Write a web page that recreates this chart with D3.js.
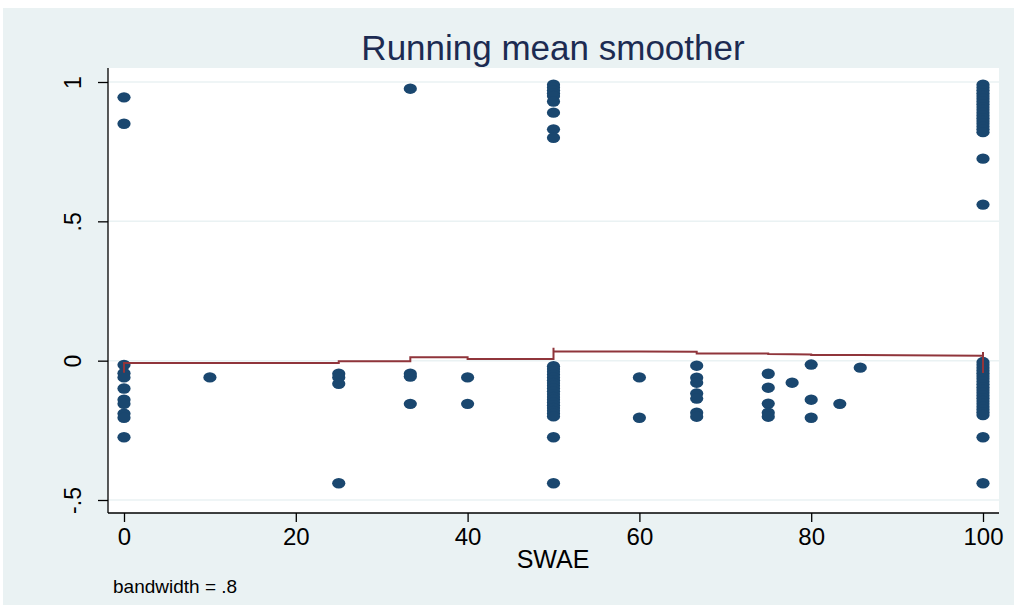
<!DOCTYPE html>
<html>
<head>
<meta charset="utf-8">
<script src="https://cdn.jsdelivr.net/npm/d3@7"></script>
<style>
  html, body { margin: 0; padding: 0; background: #ffffff; }
  svg { display: block; font-family: "Liberation Sans", Arial, sans-serif; }
</style>
</head>
<body>
<svg id="chart" width="1015" height="612"></svg>
<script>
// SWAE levels and the outcome values observed at each level
const swaeLevels = [0, 10, 25, 33.33, 40, 50, 60, 66.67, 75, 77.78, 80, 83.33, 85.71, 100];
const outcomeAt0 = [0.945, 0.85, -0.015, -0.045, -0.06, -0.1, -0.14, -0.155, -0.19, -0.205, -0.275];
const outcomeAt10 = [-0.06];
const outcomeAt25 = [-0.047, -0.06, -0.083, -0.44];
const outcomeAt33 = [0.976, -0.047, -0.057, -0.155];
const outcomeAt40 = [-0.06, -0.155];
const outcomeAt50 = [0.99, 0.98, 0.97, 0.96, 0.95, 0.93, 0.89, 0.83, 0.80,
  -0.02, -0.03, -0.04, -0.05, -0.06, -0.07, -0.08, -0.09, -0.1, -0.11, -0.12,
  -0.13, -0.14, -0.15, -0.16, -0.17, -0.18, -0.19, -0.2, -0.275, -0.44];
const outcomeAt60 = [-0.06, -0.205];
const outcomeAt67 = [-0.018, -0.061, -0.079, -0.118, -0.136, -0.187, -0.201];
const outcomeAt75 = [-0.047, -0.097, -0.154, -0.187, -0.201];
const outcomeAt78 = [-0.079];
const outcomeAt80 = [-0.014, -0.14, -0.205];
const outcomeAt83 = [-0.155];
const outcomeAt86 = [-0.025];
const outcomeAt100 = [0.99, 0.98, 0.97, 0.96, 0.95, 0.94, 0.93, 0.92, 0.91, 0.9,
  0.89, 0.88, 0.87, 0.86, 0.85, 0.84, 0.83, 0.82, 0.725, 0.56,
  -0.005, -0.015, -0.025, -0.035, -0.045, -0.055, -0.065, -0.075, -0.085, -0.095,
  -0.105, -0.115, -0.125, -0.135, -0.145, -0.155, -0.165, -0.175, -0.185, -0.195,
  -0.275, -0.44];
const outcomeByLevel = [outcomeAt0, outcomeAt10, outcomeAt25, outcomeAt33, outcomeAt40,
  outcomeAt50, outcomeAt60, outcomeAt67, outcomeAt75, outcomeAt78, outcomeAt80,
  outcomeAt83, outcomeAt86, outcomeAt100];

// Running-mean smoother, evaluated at the sorted observations (ties give vertical runs)
const smoothX = [0, 0, 10, 25, 25, 33.33, 33.33, 40, 40, 50, 50, 50, 60, 66.67, 66.67,
  75, 75, 77.78, 80, 80, 83.33, 85.71, 100, 100, 100];
const smoothY = [-0.043, -0.008, -0.008, -0.008, -0.0025, -0.0025, 0.012, 0.012, 0.006,
  0.006, 0.046, 0.033, 0.033, 0.032, 0.026, 0.026, 0.024, 0.023, 0.022, 0.02, 0.02,
  0.02, 0.018, 0.031, -0.044];

// Axis ticks
const xTicks = [0, 20, 40, 60, 80, 100];
const yTicks = [-0.5, 0, 0.5, 1];
const yTickLabels = ["-.5", "0", ".5", "1"];

const svg = d3.select("#chart");
const W = 1015, H = 612;
const plot = { left: 108, right: 999, top: 68, bottom: 513 };

const x = d3.scaleLinear().domain([0, 100]).range([124, 983]);
const y = d3.scaleLinear().domain([-0.5, 1]).range([500, 82]);

// outer graph region
svg.append("rect").attr("x", 3).attr("y", 8).attr("width", W - 4).attr("height", 597)
  .attr("fill", "#eaf2f3");
// plot region
svg.append("rect").attr("x", plot.left).attr("y", plot.top)
  .attr("width", plot.right - plot.left).attr("height", plot.bottom - plot.top)
  .attr("fill", "#ffffff");

// horizontal grid lines
svg.append("g").selectAll("line").data(yTicks).join("line")
  .attr("x1", plot.left).attr("x2", plot.right)
  .attr("y1", d => y(d)).attr("y2", d => y(d))
  .attr("stroke", "#eaf2f3").attr("stroke-width", 1.5);

// title
svg.append("text").attr("x", 553).attr("y", 60).attr("text-anchor", "middle")
  .attr("font-size", 35).attr("fill", "#1c2b52")
  .text("Running mean smoother");

// y axis
const yAxis = d3.axisLeft(y).tickValues(yTicks)
  .tickFormat((d, i) => yTickLabels[i]).tickSize(10).tickPadding(0);
const gy = svg.append("g").attr("transform", `translate(${plot.left},0)`).call(yAxis);
gy.select(".domain").attr("d", `M0,${plot.top}V${plot.bottom}`).attr("stroke", "#000").attr("stroke-width", 1.3);
gy.selectAll(".tick line").attr("stroke", "#000").attr("stroke-width", 1.3);
gy.selectAll(".tick text")
  .attr("font-size", 23).attr("fill", "#000").attr("font-family", "Liberation Sans, Arial, sans-serif")
  .attr("text-anchor", "middle").attr("dy", null)
  .attr("transform", "translate(-34,0) rotate(-90)").attr("x", 0).attr("y", 7);

// x axis
const xAxis = d3.axisBottom(x).tickValues(xTicks).tickFormat(d3.format("d"))
  .tickSize(9).tickPadding(6);
const gx = svg.append("g").attr("transform", `translate(0,${plot.bottom})`).call(xAxis);
gx.select(".domain").attr("d", `M${plot.left},0H${plot.right}`).attr("stroke", "#000").attr("stroke-width", 1.3);
gx.selectAll(".tick line").attr("stroke", "#000").attr("stroke-width", 1.3);
gx.selectAll(".tick text").attr("font-size", 24).attr("fill", "#000")
  .attr("font-family", "Liberation Sans, Arial, sans-serif");

// axis title and note
svg.append("text").attr("x", 553).attr("y", 568).attr("text-anchor", "middle")
  .attr("font-size", 25).attr("fill", "#000").text("SWAE");
svg.append("text").attr("x", 113).attr("y", 593)
  .attr("font-size", 19).attr("fill", "#000").text("bandwidth = .8");

// scatter points
const points = swaeLevels.flatMap((lv, i) => outcomeByLevel[i].map(v => ({ sx: lv, v })));
svg.append("g").selectAll("ellipse").data(points).join("ellipse")
  .attr("cx", d => x(d.sx)).attr("cy", d => y(d.v))
  .attr("rx", 6.6).attr("ry", 5.2)
  .attr("fill", "#1a476f");

// smoother line
const linePts = smoothX.map((sx, i) => [sx, smoothY[i]]);
svg.append("path").datum(linePts)
  .attr("d", d3.line().x(d => x(d[0])).y(d => y(d[1])))
  .attr("fill", "none").attr("stroke", "#90353b").attr("stroke-width", 2);
</script>
</body>
</html>
